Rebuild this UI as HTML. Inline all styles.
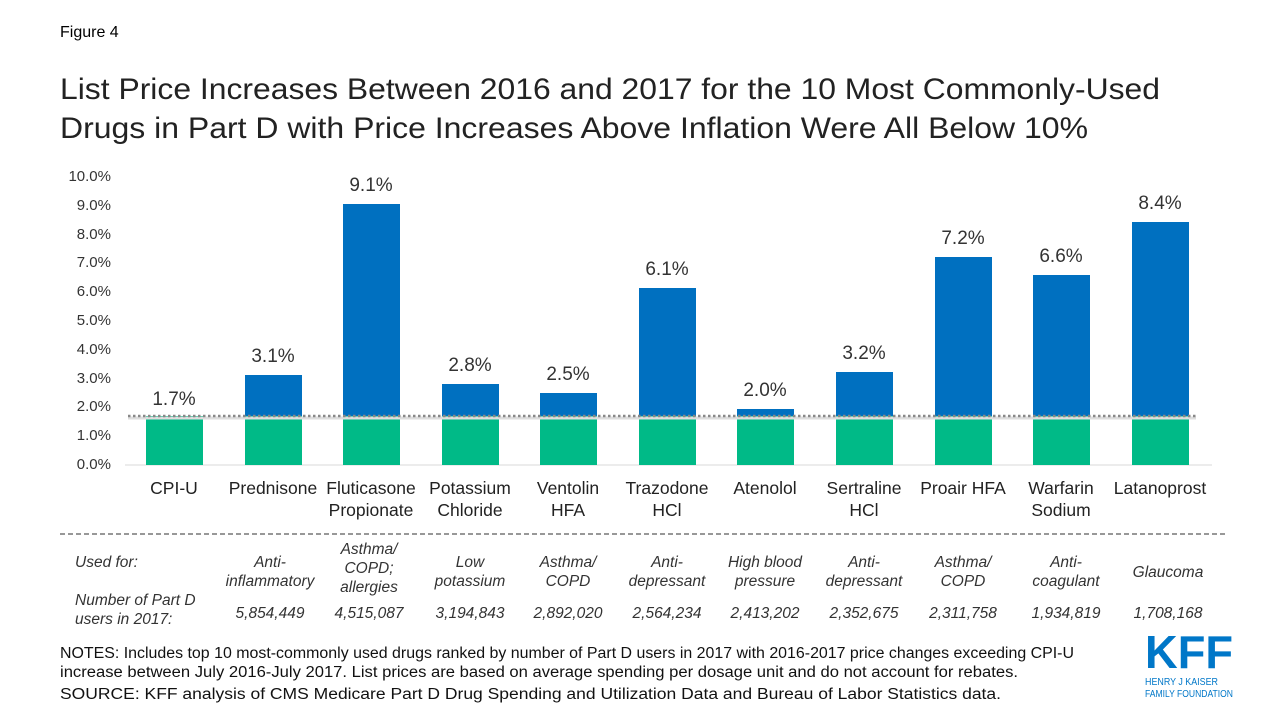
<!DOCTYPE html>
<html><head><meta charset="utf-8"><style>
body{margin:0;background:#fff;}
svg{display:block;font-family:"Liberation Sans",Arial,sans-serif;}
</style></head><body>
<svg width="1280" height="720" viewBox="0 0 1280 720" xmlns="http://www.w3.org/2000/svg">
<text x="60" y="37" font-size="16" fill="#000">Figure 4</text>
<text x="60" y="99" font-size="30" fill="#222" textLength="1100" lengthAdjust="spacingAndGlyphs">List Price Increases Between 2016 and 2017 for the 10 Most Commonly-Used</text>
<text x="60" y="138" font-size="30" fill="#222" textLength="1028" lengthAdjust="spacingAndGlyphs">Drugs in Part D with Price Increases Above Inflation Were All Below 10%</text>
<g font-size="15" fill="#333" text-anchor="end">
<text x="111" y="181">10.0%</text><text x="111" y="210">9.0%</text><text x="111" y="239">8.0%</text>
<text x="111" y="267">7.0%</text><text x="111" y="296">6.0%</text><text x="111" y="325">5.0%</text>
<text x="111" y="354">4.0%</text><text x="111" y="383">3.0%</text><text x="111" y="411">2.0%</text>
<text x="111" y="440">1.0%</text><text x="111" y="469">0.0%</text>
</g>
<line x1="125" y1="465" x2="1212" y2="465" stroke="#d9d9d9" stroke-width="1"/>
<g fill="#0070C0">
<rect x="245" y="375" width="57" height="41"/>
<rect x="343" y="204" width="57" height="212"/>
<rect x="442" y="384" width="57" height="32"/>
<rect x="540" y="393" width="57" height="23"/>
<rect x="639" y="288" width="57" height="128"/>
<rect x="737" y="409" width="57" height="7"/>
<rect x="836" y="372" width="57" height="44"/>
<rect x="935" y="257" width="57" height="159"/>
<rect x="1033" y="275" width="57" height="141"/>
<rect x="1132" y="222" width="57" height="194"/>
</g>
<g fill="#00BA87">
<rect x="146" y="416" width="57" height="49"/><rect x="245" y="416" width="57" height="49"/>
<rect x="343" y="416" width="57" height="49"/><rect x="442" y="416" width="57" height="49"/>
<rect x="540" y="416" width="57" height="49"/><rect x="639" y="416" width="57" height="49"/>
<rect x="737" y="416" width="57" height="49"/><rect x="836" y="416" width="57" height="49"/>
<rect x="935" y="416" width="57" height="49"/><rect x="1033" y="416" width="57" height="49"/>
<rect x="1132" y="416" width="57" height="49"/>
</g>
<line x1="128" y1="418" x2="1196" y2="418" stroke="#ddd" stroke-width="3"/>
<line x1="128" y1="416" x2="1196" y2="416" stroke="#888" stroke-width="2.5" stroke-dasharray="2.5,2.5"/>
<g font-size="19" fill="#333" text-anchor="middle">
<text x="174" y="405">1.7%</text><text x="273" y="362">3.1%</text><text x="371" y="191">9.1%</text>
<text x="470" y="371">2.8%</text><text x="568" y="380">2.5%</text><text x="667" y="275">6.1%</text>
<text x="765" y="396">2.0%</text><text x="864" y="359">3.2%</text><text x="963" y="244">7.2%</text>
<text x="1061" y="262">6.6%</text><text x="1160" y="209">8.4%</text>
</g>
<g font-size="17.5" fill="#222" text-anchor="middle">
<text x="174" y="494">CPI-U</text><text x="273" y="494">Prednisone</text>
<text x="371" y="494">Fluticasone</text><text x="371" y="516">Propionate</text>
<text x="470" y="494">Potassium</text><text x="470" y="516">Chloride</text>
<text x="568" y="494">Ventolin</text><text x="568" y="516">HFA</text>
<text x="667" y="494">Trazodone</text><text x="667" y="516">HCl</text>
<text x="765" y="494">Atenolol</text>
<text x="864" y="494">Sertraline</text><text x="864" y="516">HCl</text>
<text x="963" y="494">Proair HFA</text>
<text x="1061" y="494">Warfarin</text><text x="1061" y="516">Sodium</text>
<text x="1160" y="494">Latanoprost</text>
</g>
<line x1="60" y1="534" x2="1225" y2="534" stroke="#777" stroke-width="1.5" stroke-dasharray="5,3"/>
<g font-size="15.5" fill="#333" font-style="italic">
<text x="75" y="567">Used for:</text>
<text x="75" y="605">Number of Part D</text>
<text x="75" y="624">users in 2017:</text>
</g>
<g font-size="15.5" fill="#333" font-style="italic" text-anchor="middle">
<text x="270" y="567">Anti-</text><text x="270" y="586">inflammatory</text>
<text x="369" y="554">Asthma/</text><text x="369" y="573">COPD;</text><text x="369" y="592">allergies</text>
<text x="470" y="567">Low</text><text x="470" y="586">potassium</text>
<text x="568" y="567">Asthma/</text><text x="568" y="586">COPD</text>
<text x="667" y="567">Anti-</text><text x="667" y="586">depressant</text>
<text x="765" y="567">High blood</text><text x="765" y="586">pressure</text>
<text x="864" y="567">Anti-</text><text x="864" y="586">depressant</text>
<text x="963" y="567">Asthma/</text><text x="963" y="586">COPD</text>
<text x="1066" y="567">Anti-</text><text x="1066" y="586">coagulant</text>
<text x="1168" y="577">Glaucoma</text>
<text x="270" y="618">5,854,449</text><text x="369" y="618">4,515,087</text>
<text x="470" y="618">3,194,843</text><text x="568" y="618">2,892,020</text>
<text x="667" y="618">2,564,234</text><text x="765" y="618">2,413,202</text>
<text x="864" y="618">2,352,675</text><text x="963" y="618">2,311,758</text>
<text x="1066" y="618">1,934,819</text><text x="1168" y="618">1,708,168</text>
</g>
<g font-size="15.5" fill="#111">
<text x="60" y="658" textLength="1014" lengthAdjust="spacingAndGlyphs">NOTES: Includes top 10 most-commonly used drugs ranked by number of Part D users in 2017 with 2016-2017 price changes exceeding CPI-U</text>
<text x="60" y="677" textLength="958" lengthAdjust="spacingAndGlyphs">increase between July 2016-July 2017. List prices are based on average spending per dosage unit and do not account for rebates.</text>
<text x="60" y="699" textLength="941" lengthAdjust="spacingAndGlyphs">SOURCE: KFF analysis of CMS Medicare Part D Drug Spending and Utilization Data and Bureau of Labor Statistics data.</text>
</g>
<text x="1145" y="668" font-size="46" font-weight="bold" fill="#0077C8" textLength="88" lengthAdjust="spacingAndGlyphs">KFF</text>
<text x="1145" y="685" font-size="10" fill="#0077C8" textLength="73" lengthAdjust="spacingAndGlyphs">HENRY J KAISER</text>
<text x="1145" y="697" font-size="10" fill="#0077C8" textLength="88" lengthAdjust="spacingAndGlyphs">FAMILY FOUNDATION</text>
</svg>
</body></html>
